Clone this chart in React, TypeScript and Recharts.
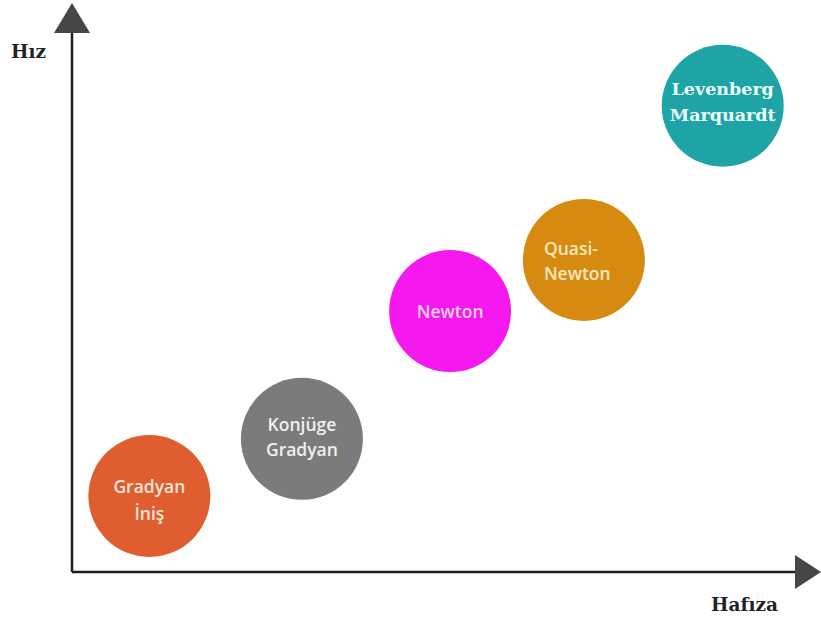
import { ScatterChart, Scatter, XAxis, YAxis, ReferenceDot, ReferenceLine, Cell } from 'recharts';

// training methods, memory need (x) vs speed (y), both on a 0-100 scale
const methods = ['Gradyan İniş', 'Konjüge Gradyan', 'Newton', 'Quasi-Newton', 'Levenberg Marquardt'];
const labelLines = [['Gradyan', 'İniş'], ['Konjüge', 'Gradyan'], ['Newton'], ['Quasi-', 'Newton'], ['Levenberg', 'Marquardt']];
const memory = [10.7, 31.8, 52.3, 70.8, 90.0];
const speed = [14.1, 24.7, 48.4, 57.9, 86.5];

const xLabel = 'Hafıza';
const yLabel = 'Hız';

const fills = ['#e05d30', '#7b7b7b', '#f518ef', '#d78a10', '#1ea4a6'];
const textFills = ['#f7e6da', '#f0f0f0', '#f8d2f2', '#f9e8bf', '#ecfff9'];
const labelFonts = [
  { family: 'Open Sans', weight: 600, size: 17.5, dy: [-8, 19], anchor: 'middle', dx: 0 },
  { family: 'Open Sans', weight: 600, size: 17.5, dy: [-13, 12], anchor: 'middle', dx: 0 },
  { family: 'Open Sans', weight: 600, size: 17.5, dy: [2], anchor: 'middle', dx: 0 },
  { family: 'Open Sans', weight: 600, size: 17.5, dy: [-10, 15], anchor: 'start', dx: -40 },
  { family: 'DejaVu Serif', weight: 700, size: 17.5, dy: [-15, 11], anchor: 'middle', dx: 0 },
];

const data = methods.map((name, i) => ({ name, idx: i, x: memory[i], y: speed[i], lines: labelLines[i] }));

const Bubble = (props: any) => {
  const { cx, cy, payload, fill } = props;
  const f = labelFonts[payload.idx];
  return (
    <g>
      <circle cx={cx} cy={cy} r={61} fill={fill} />
      {payload.lines.map((line: string, k: number) => (
        <text
          key={k}
          x={cx + f.dx}
          y={cy + f.dy[k]}
          textAnchor={f.anchor}
          dominantBaseline="middle"
          fill={textFills[payload.idx]}
          fontFamily={f.family}
          fontWeight={f.weight}
          fontSize={f.size}
        >
          {line}
        </text>
      ))}
    </g>
  );
};

const axisText = { fontFamily: 'DejaVu Serif', fontWeight: 700, fontSize: 18.5, fill: '#222' };

export default function App() {
  return (
    <div style={{ position: 'absolute', left: 0, top: 0, background: '#fff' }}>
      <ScatterChart width={821} height={623} margin={{ top: 33, right: 26, bottom: 51, left: 72 }}>
        <XAxis type="number" dataKey="x" domain={[0, 100]} hide />
        <YAxis type="number" dataKey="y" domain={[0, 100]} hide />
        <ReferenceLine
          y={0}
          stroke="#1e1e1e"
          strokeWidth={2.5}
          ifOverflow="visible"
          label={{
            content: ({ viewBox }: any) => (
              <text x={viewBox.x + viewBox.width - 84} y={viewBox.y + 39} {...axisText}>
                {xLabel}
              </text>
            ),
          }}
        />
        <ReferenceLine
          x={0}
          stroke="#1e1e1e"
          strokeWidth={2.5}
          ifOverflow="visible"
          label={{
            content: ({ viewBox }: any) => (
              <text x={viewBox.x - 61} y={viewBox.y + 25} {...axisText}>
                {yLabel}
              </text>
            ),
          }}
        />
        <ReferenceDot
          x={100}
          y={0}
          ifOverflow="visible"
          shape={(p: any) => (
            <polygon points={`${p.cx},${p.cy - 17} ${p.cx + 26},${p.cy} ${p.cx},${p.cy + 17}`} fill="#464646" />
          )}
        />
        <ReferenceDot
          x={0}
          y={100}
          ifOverflow="visible"
          shape={(p: any) => (
            <polygon points={`${p.cx - 18},${p.cy} ${p.cx},${p.cy - 30} ${p.cx + 18},${p.cy}`} fill="#464646" />
          )}
        />
        <Scatter data={data} shape={Bubble} isAnimationActive={false}>
          {data.map((d) => (
            <Cell key={d.name} fill={fills[d.idx]} />
          ))}
        </Scatter>
      </ScatterChart>
    </div>
  );
}
